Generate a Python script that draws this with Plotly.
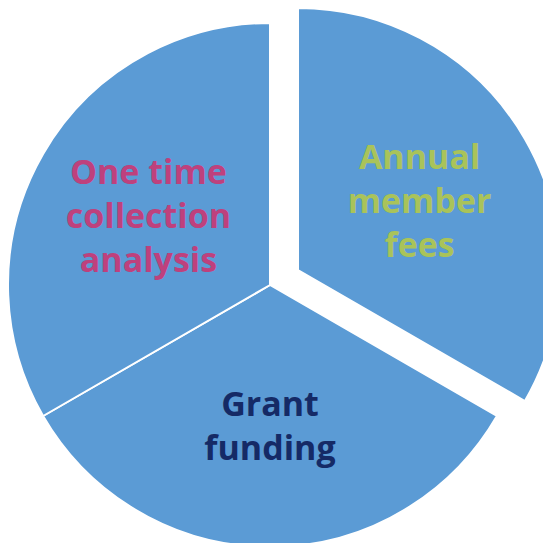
import plotly.graph_objects as go

labels = ["Annual member fees", "Grant funding", "One time collection analysis"]
text_labels = ["Annual<br>member<br>fees", "Grant<br>funding", "One time<br>collection<br>analysis"]
values = [1, 1, 1]
slice_color = "#5B9BD5"
text_colors = ["#A9C35A", "#152A66", "#BE417D"]

W, H = 580, 560
R = 262
off = 8                      # page body margin
cx, cy = 270 - off, 285 - off  # centre of the un-pulled pie (pixels)
pull_dx, pull_dy = 28, -15     # offset of the pulled slice (pixels)
FS = 34

def dom(cx_, cy_):
    return dict(x=[max(0, (cx_ - R) / W), min(1, (cx_ + R) / W)],
                y=[max(0, 1 - (cy_ + R) / H), min(1, 1 - (cy_ - R) / H)])

fig = go.Figure()
# base pie: the two slices that stay in place
fig.add_trace(go.Pie(
    labels=labels, values=values, sort=False, direction="clockwise", rotation=0,
    marker=dict(colors=["rgba(0,0,0,0)", slice_color, slice_color],
                line=dict(color=["rgba(0,0,0,0)", "white", "white"], width=2)),
    text=["", text_labels[1], text_labels[2]], textinfo="text",
    textposition="inside", insidetextorientation="horizontal",
    textfont=dict(family="Open Sans", size=FS, color=["rgba(0,0,0,0)", text_colors[1], text_colors[2]], weight="bold"),
    showlegend=False, hoverinfo="label", domain=dom(cx, cy)))
# pulled slice
fig.add_trace(go.Pie(
    labels=labels, values=values, sort=False, direction="clockwise", rotation=0,
    marker=dict(colors=[slice_color, "rgba(0,0,0,0)", "rgba(0,0,0,0)"],
                line=dict(color=["white", "rgba(0,0,0,0)", "rgba(0,0,0,0)"], width=2)),
    text=[text_labels[0], "", ""], textinfo="text",
    textposition="inside", insidetextorientation="horizontal",
    textfont=dict(family="Open Sans", size=FS, color=[text_colors[0], "rgba(0,0,0,0)", "rgba(0,0,0,0)"], weight="bold"),
    showlegend=False, hoverinfo="label", domain=dom(cx + pull_dx, cy + pull_dy)))

fig.update_layout(width=W, height=H, margin=dict(l=0, r=0, t=0, b=0),
                  uniformtext=dict(minsize=FS, mode="show"),
                  paper_bgcolor="white", plot_bgcolor="white")
fig.write_html("out.html")
